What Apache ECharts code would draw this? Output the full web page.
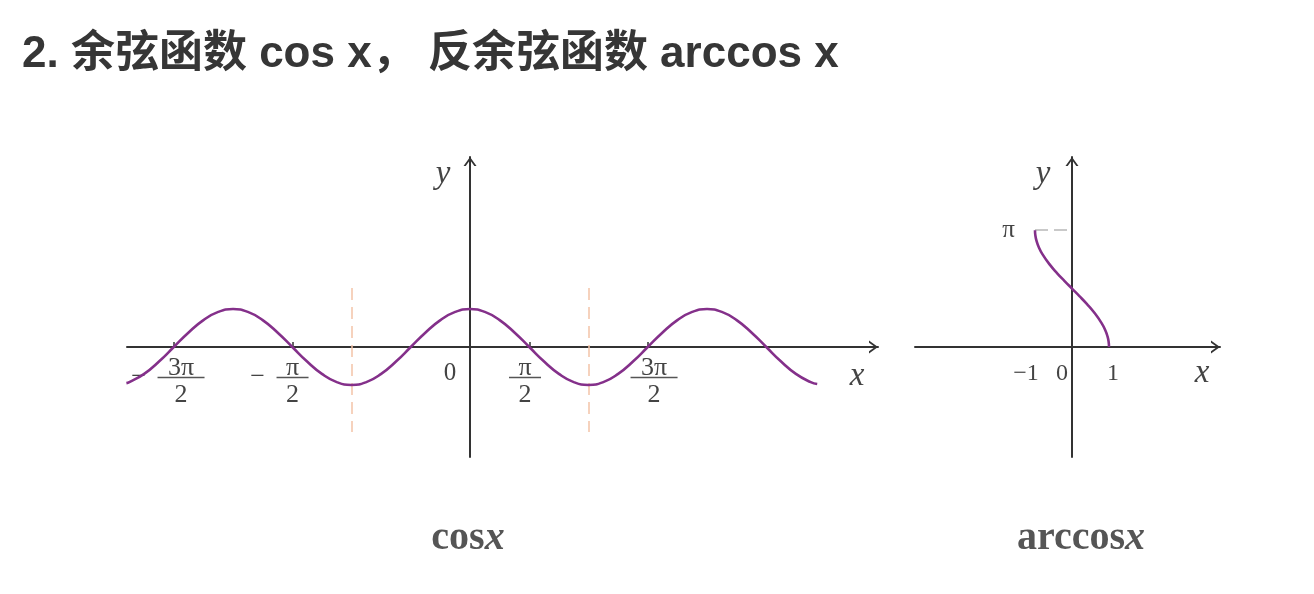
<!DOCTYPE html>
<html>
<head>
<meta charset="utf-8">
<style>
  html, body { margin: 0; padding: 0; background: #ffffff; }
  #chart { width: 1314px; height: 594px; }
</style>
<script src="https://cdn.jsdelivr.net/npm/echarts@6/dist/echarts.min.js"></script>
</head>
<body>
<div id="chart"></div>
<script>
// ---------- data (x of the cos plot in units of π) ----------
const cosCurve = [
  [-2.9, -0.9511], [-2.875, -0.9239], [-2.75, -0.7071], [-2.625, -0.3827], [-2.5, 0],
  [-2.375, 0.3827], [-2.25, 0.7071], [-2.125, 0.9239], [-2, 1], [-1.875, 0.9239],
  [-1.75, 0.7071], [-1.625, 0.3827], [-1.5, 0], [-1.375, -0.3827], [-1.25, -0.7071],
  [-1.125, -0.9239], [-1, -1], [-0.875, -0.9239], [-0.75, -0.7071], [-0.625, -0.3827],
  [-0.5, 0], [-0.375, 0.3827], [-0.25, 0.7071], [-0.125, 0.9239], [0, 1],
  [0.125, 0.9239], [0.25, 0.7071], [0.375, 0.3827], [0.5, 0], [0.625, -0.3827],
  [0.75, -0.7071], [0.875, -0.9239], [1, -1], [1.125, -0.9239], [1.25, -0.7071],
  [1.375, -0.3827], [1.5, 0], [1.625, 0.3827], [1.75, 0.7071], [1.875, 0.9239],
  [2, 1], [2.125, 0.9239], [2.25, 0.7071], [2.375, 0.3827], [2.5, 0],
  [2.625, -0.3827], [2.75, -0.7071], [2.875, -0.9239], [2.93, -0.9759]
];
const cosXRange = [-2.895, 3.443];
const cosYRange = [-2.895, 5.0];
const cosTickValues = [-2.5, -1.5, 0.5, 1.5];
const cosLabelValues = [-2.439, -1.498, -0.169, 0.464, 1.553];
const cosLabelTexts = ['−3π/2', '−π/2', '0', 'π/2', '3π/2'];
const cosDashX = [-1, 1];
const cosDashY = [1.55, -2.24];

const arccosCurve = [
  [-1, 3.1416], [-0.99, 3.0001], [-0.96, 2.8578], [-0.9, 2.6906], [-0.8, 2.4981],
  [-0.6, 2.2143], [-0.4, 1.9823], [-0.2, 1.7722], [0, 1.5708], [0.2, 1.3694],
  [0.4, 1.1593], [0.6, 0.9273], [0.8, 0.6435], [0.9, 0.4510], [0.96, 0.2838],
  [0.99, 0.1415], [1, 0]
];
const arccosXRange = [-4.243, 4.0];
const arccosYRange = [-2.957, 5.108];
const arccosLabelValues = [-1.243, -0.27, 1.108];
const arccosLabelTexts = ['−1', '0', '1'];
const arccosYLabelValues = [3.1416];
const arccosYLabelTexts = ['π'];
const arccosDash = [[-1, 3.1416], [0, 3.1416]];

const titleText = '2. 余弦函数 cos x， 反余弦函数 arccos x';
const captionCos = ['cos', 'x'];
const captionArccos = ['arccos', 'x'];

// ---------- layout / styles ----------
const GRID0 = { left: 127, top: 157, width: 751, height: 300 };
const GRID1 = { left: 915, top: 157, width: 305, height: 300 };
const SERIF = '"Liberation Serif", "Times New Roman", serif';
const AXIS_COLOR = '#333333';
const TEXT_COLOR = '#444444';
const CURVE_COLOR = '#84308a';
const ARROW = 'path://M0,9 L6.5,0 L13,9 L10.8,9 L6.5,3 L2.2,9 Z';

// offset that places an axis through the other axis' zero
function zeroOffset(range, length) {
  return -((0 - range[0]) / (range[1] - range[0])) * length;
}

function nearestIndex(arr, v) {
  let b = 0;
  for (let i = 1; i < arr.length; i++) {
    if (Math.abs(arr[i] - v) < Math.abs(arr[b] - v)) b = i;
  }
  return b;
}

function richLabel(text) {
  const m = /^(−?)(.+)\/(\d)$/.exec(text);
  if (!m) return '{z|' + text + '}';
  const s = m[2].length > 1 ? 'L' : 'S';
  if (m[1]) {
    return '{pad|}{n' + s + '|' + m[2] + '}{pad|}\n' +
           '{mi|−}{gp|}{b' + s + '|}{pad|}\n' +
           '{pad|}{d' + s + '|' + m[3] + '}{pad|}';
  }
  return '{n' + s + '|' + m[2] + '}\n{b' + s + '|}\n{d' + s + '|' + m[3] + '}';
}

const base = { fontFamily: SERIF, fontSize: 26, color: TEXT_COLOR, align: 'center' };
const fracRich = {
  mi: Object.assign({}, base, { width: 14, lineHeight: 1 }),
  gp: { width: 12, lineHeight: 1, align: 'center' },
  pad: { width: 26, lineHeight: 1, align: 'center' },
  nS: Object.assign({}, base, { width: 32, lineHeight: 18 }),
  nL: Object.assign({}, base, { width: 47, lineHeight: 18 }),
  bS: { width: 32, height: 1.3, lineHeight: 1, backgroundColor: '#555555', align: 'center' },
  bL: { width: 47, height: 1.3, lineHeight: 1, backgroundColor: '#555555', align: 'center' },
  dS: Object.assign({}, base, { width: 32, lineHeight: 34 }),
  dL: Object.assign({}, base, { width: 47, lineHeight: 34 }),
  z: Object.assign({}, base, { fontSize: 25, lineHeight: 28 })
};

const axisLineCommon = {
  show: true,
  onZero: false,
  symbol: ['none', ARROW],
  symbolSize: [13, 9],
  symbolOffset: [0, -4.5],
  lineStyle: { color: AXIS_COLOR, width: 2 }
};

const nameStyle = { fontFamily: SERIF, fontStyle: 'italic', fontSize: 33, color: TEXT_COLOR, align: 'center' };

const chart = echarts.init(document.getElementById('chart'), null, { renderer: 'canvas' });

const captionRich = {
  r: { fontFamily: SERIF, fontSize: 40, color: '#555555' },
  i: { fontFamily: SERIF, fontSize: 40, fontStyle: 'italic', color: '#555555' }
};

const option = {
  backgroundColor: '#ffffff',
  animation: false,
  title: [
    {
      text: titleText, left: 22, top: 55, padding: 0, textVerticalAlign: 'middle',
      textStyle: { fontSize: 44, fontWeight: 'bold', color: '#363636', fontFamily: '"Liberation Sans", "Noto Sans CJK SC", sans-serif' }
    },
    {
      text: '{r|' + captionCos[0] + '}{i|' + captionCos[1] + '}', left: 468, top: 539, padding: 0,
      textAlign: 'center', textVerticalAlign: 'middle', textStyle: { rich: captionRich }
    },
    {
      text: '{r|' + captionArccos[0] + '}{i|' + captionArccos[1] + '}', left: 1081, top: 539, padding: 0,
      textAlign: 'center', textVerticalAlign: 'middle', textStyle: { rich: captionRich }
    }
  ],
  grid: [
    Object.assign({ containLabel: false, outerBoundsMode: 'none' }, GRID0),
    Object.assign({ containLabel: false, outerBoundsMode: 'none' }, GRID1)
  ],
  xAxis: [
    {
      type: 'value', gridIndex: 0, min: cosXRange[0], max: cosXRange[1],
      position: 'bottom', offset: zeroOffset(cosYRange, GRID0.height),
      axisLine: axisLineCommon,
      splitLine: { show: false },
      axisTick: { show: true, inside: true, length: 5, customValues: cosTickValues, lineStyle: { color: AXIS_COLOR, width: 1.5 } },
      axisLabel: {
        show: true, margin: 12, customValues: cosLabelValues,
        formatter: function (v) { return richLabel(cosLabelTexts[nearestIndex(cosLabelValues, v)]); },
        rich: fracRich
      },
      name: 'x', nameLocation: 'end', nameGap: -21, nameMoveOverlap: false,
      nameTextStyle: Object.assign({}, nameStyle, { verticalAlign: 'top', padding: [13, 0, 0, 0] })
    },
    {
      type: 'value', gridIndex: 1, min: arccosXRange[0], max: arccosXRange[1],
      position: 'bottom', offset: zeroOffset(arccosYRange, GRID1.height),
      axisLine: axisLineCommon,
      splitLine: { show: false },
      axisTick: { show: false },
      axisLabel: {
        show: true, margin: 12, customValues: arccosLabelValues,
        formatter: function (v) { return '{z|' + arccosLabelTexts[nearestIndex(arccosLabelValues, v)] + '}'; },
        rich: { z: Object.assign({}, base, { fontSize: 24, lineHeight: 30 }) }
      },
      name: 'x', nameLocation: 'end', nameGap: -18, nameMoveOverlap: false,
      nameTextStyle: Object.assign({}, nameStyle, { verticalAlign: 'top', padding: [10, 0, 0, 0] })
    }
  ],
  yAxis: [
    {
      type: 'value', gridIndex: 0, min: cosYRange[0], max: cosYRange[1],
      position: 'left', offset: zeroOffset(cosXRange, GRID0.width),
      axisLine: axisLineCommon,
      splitLine: { show: false },
      axisTick: { show: false },
      axisLabel: { show: false },
      name: 'y', nameLocation: 'end', nameGap: -17, nameMoveOverlap: false,
      nameTextStyle: Object.assign({}, nameStyle, { verticalAlign: 'middle', padding: [0, 54, 0, 0] })
    },
    {
      type: 'value', gridIndex: 1, min: arccosYRange[0], max: arccosYRange[1],
      position: 'left', offset: zeroOffset(arccosXRange, GRID1.width),
      axisLine: axisLineCommon,
      splitLine: { show: false },
      axisTick: { show: false },
      axisLabel: {
        show: true, margin: 57, customValues: arccosYLabelValues,
        formatter: function (v) { return arccosYLabelTexts[nearestIndex(arccosYLabelValues, v)]; },
        fontFamily: SERIF, fontSize: 25, color: TEXT_COLOR
      },
      name: 'y', nameLocation: 'end', nameGap: -17, nameMoveOverlap: false,
      nameTextStyle: Object.assign({}, nameStyle, { verticalAlign: 'middle', padding: [0, 58, 0, 0] })
    }
  ],
  series: [
    {
      type: 'line', xAxisIndex: 0, yAxisIndex: 0, data: cosCurve,
      showSymbol: false, smooth: true, z: 5,
      lineStyle: { color: CURVE_COLOR, width: 2.6 },
      markLine: {
        silent: true, symbol: ['none', 'none'], label: { show: false },
        lineStyle: { color: '#f3c3a8', width: 1.5, type: [12, 7] },
        data: cosDashX.map(function (x) { return [{ coord: [x, cosDashY[0]] }, { coord: [x, cosDashY[1]] }]; })
      }
    },
    {
      type: 'line', xAxisIndex: 1, yAxisIndex: 1, data: arccosCurve,
      showSymbol: false, smooth: true, z: 5,
      lineStyle: { color: CURVE_COLOR, width: 2.6 },
      markLine: {
        silent: true, symbol: ['none', 'none'], label: { show: false },
        lineStyle: { color: '#c9c9c9', width: 2, type: [13, 6] },
        data: [[{ coord: arccosDash[0] }, { coord: arccosDash[1] }]]
      }
    }
  ]
};

chart.setOption(option);
</script>
</body>
</html>
